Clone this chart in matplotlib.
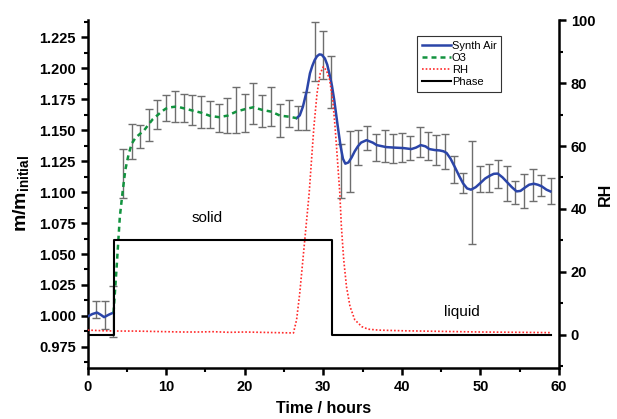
import matplotlib
matplotlib.use("Agg")
import matplotlib.pyplot as plt
from matplotlib.ticker import MultipleLocator, FormatStrFormatter

plt.rcParams['font.family'] = ['Liberation Sans', 'DejaVu Sans']
plt.rcParams['mathtext.fontset'] = 'custom'
plt.rcParams['mathtext.rm'] = 'Liberation Sans'
plt.rcParams['mathtext.bf'] = 'Liberation Sans:bold'

# synth air curve (two parts: before ozone and after ozone)
air1_t = [0.0, 0.6, 1.2, 1.7, 2.1, 2.7, 3.3]
air1_m = [0.9995, 1.0015, 1.0027, 1.0008, 0.9990, 1.0010, 1.0027]
air2_t = [26.6, 27.0, 27.4, 27.9, 28.3, 28.6, 28.9, 29.2, 29.5, 29.8, 30.2, 30.5,
          30.8, 31.1, 31.4, 31.8, 32.2, 32.5, 32.8, 33.2, 33.6, 34.0, 34.4, 34.8,
          35.5, 36.3, 36.8, 38.0, 39.0, 40.2, 41.2, 41.8, 42.4, 43.0, 43.5, 44.2,
          44.8, 45.3, 45.7, 46.2, 46.7, 47.3, 47.8, 48.3, 48.8, 49.4, 50.0, 50.6,
          51.2, 51.7, 52.2, 52.8, 53.4, 54.0, 54.6, 55.1, 55.6, 56.2, 56.8, 57.3,
          57.8, 58.4, 58.9]
air2_m = [1.1598, 1.162, 1.169, 1.182, 1.196, 1.202, 1.2067, 1.2098, 1.2113,
          1.2110, 1.208, 1.203, 1.195, 1.186, 1.174, 1.155, 1.137, 1.127, 1.123,
          1.124, 1.128, 1.133, 1.137, 1.140, 1.142, 1.140, 1.138, 1.1364, 1.136,
          1.1356, 1.1348, 1.136, 1.138, 1.137, 1.1348, 1.1340, 1.1337, 1.1330,
          1.1316, 1.127, 1.1208, 1.113, 1.107, 1.103, 1.102, 1.104, 1.1074, 1.111,
          1.1133, 1.1148, 1.115, 1.112, 1.108, 1.104, 1.1006, 1.101, 1.1034, 1.106,
          1.1068, 1.106, 1.1047, 1.102, 1.1006]

# O3 curve
o3_t = [3.3, 3.7, 4.1, 4.45, 4.8, 5.2, 5.6, 6.1, 6.65, 7.2, 7.8, 8.3, 8.86, 9.4,
        9.96, 10.5, 11.1, 11.6, 12.2, 13.3, 14.4, 15.6, 16.7, 17.8, 18.9, 20.0,
        21.1, 22.2, 23.4, 24.5, 25.6, 26.6]
o3_m = [1.0027, 1.040, 1.080, 1.100, 1.118, 1.130, 1.139, 1.144, 1.147, 1.150,
        1.155, 1.159, 1.162, 1.165, 1.1675, 1.1685, 1.169, 1.1688, 1.1678, 1.166,
        1.1643, 1.1616, 1.1606, 1.1618, 1.165, 1.167, 1.1686, 1.1665, 1.165,
        1.1618, 1.161, 1.1598]

# measurement points with error bars
bar_t = [1.02, 2.20, 3.26, 4.45, 5.60, 6.65, 7.80, 8.86, 9.96, 11.11, 12.21, 13.28,
         14.38, 15.57, 16.67, 17.76, 18.87, 20.01, 21.07, 22.21, 23.36, 24.47,
         25.57, 26.72, 27.77, 28.92, 29.97, 31.04, 32.22, 33.37, 34.43, 35.57,
         36.68, 37.82, 38.88, 40.03, 41.09, 42.28, 43.33, 44.40, 45.55, 46.64,
         47.79, 48.93, 50.00, 51.09, 52.24, 53.38, 54.45, 55.55, 56.69, 57.76, 58.94]
bar_m = [1.005, 1.0007, 1.0034, 1.115, 1.141, 1.145, 1.1545, 1.163, 1.1678, 1.1694,
         1.168, 1.1664, 1.165, 1.163, 1.160, 1.162, 1.1666, 1.1637, 1.1715, 1.1658,
         1.1694, 1.158, 1.1635, 1.160, 1.1657, 1.2138, 1.2108, 1.189, 1.117, 1.1244,
         1.136, 1.144, 1.136, 1.137, 1.135, 1.136, 1.136, 1.1406, 1.1373, 1.134,
         1.133, 1.1184, 1.1074, 1.0997, 1.1103, 1.1114, 1.1148, 1.107, 1.0996, 1.101,
         1.1057, 1.1056, 1.101]
bar_e = [0.007, 0.0114, 0.0207, 0.020, 0.014, 0.0094, 0.013, 0.0117, 0.0107, 0.0124,
         0.011, 0.012, 0.013, 0.011, 0.0114, 0.0143, 0.0185, 0.0155, 0.0165, 0.0128,
         0.0158, 0.0134, 0.011, 0.010, 0.0155, 0.0238, 0.0195, 0.021, 0.022, 0.0246,
         0.014, 0.0097, 0.011, 0.013, 0.0118, 0.012, 0.0097, 0.012, 0.011, 0.012,
         0.014, 0.011, 0.008, 0.042, 0.0105, 0.011, 0.0114, 0.014, 0.009, 0.014,
         0.013, 0.0085, 0.0104]

# relative humidity
rh_t = [0, 2, 4, 6, 8, 10, 12, 14, 16, 18, 20, 22, 24, 26.2, 26.6, 27.0, 27.4, 27.8,
        28.2, 28.5, 28.8, 29.2, 29.6, 30.0, 30.4, 30.8, 31.2, 31.5, 31.8, 32.1, 32.3,
        32.6, 32.95, 33.4, 34.0, 34.9, 35.7, 37, 40, 45, 50, 55, 58.9]
rh = [1.5, 1.3, 1.2, 1.2, 1.1, 1.0, 0.9, 0.9, 1.0, 0.8, 0.9, 0.8, 0.7, 0.6, 4.8, 13.2,
      23.8, 34.4, 45, 55.6, 66, 76.7, 83, 85.2, 84, 81, 74.6, 66, 55.6, 45, 34.4,
      23.8, 15.3, 9, 4.8, 2.6, 1.8, 1.5, 1.3, 1.1, 0.9, 0.8, 0.7]

# phase indicator
phase_t = [0, 3.3, 3.3, 31.1, 31.1, 59]
phase = [0, 0, 30, 30, 0, 0]

fig = plt.figure(figsize=(6.17, 4.19), dpi=100)
ax = fig.add_axes([0.142, 0.122, 0.764, 0.830])
ax2 = ax.twinx()

ax.errorbar(bar_t, bar_m, yerr=bar_e, fmt='none', ecolor='#6e6e6e',
            elinewidth=1.0, capsize=3, capthick=1.0, zorder=2)
l_air, = ax.plot(air1_t, air1_m, color='#2b45a8', lw=1.8, label='Synth Air', zorder=3)
ax.plot(air2_t, air2_m, color='#2b45a8', lw=1.8, zorder=3)
l_o3, = ax.plot(o3_t, o3_m, color='#12933f', lw=1.8, ls=(0, (2.0, 1.6)), label='O3', zorder=3)

l_rh, = ax2.plot(rh_t, rh, color='#ff2a2a', lw=1.2, ls=(0, (1, 1.2)), label='RH')
l_ph, = ax2.plot(phase_t, phase, color='black', lw=1.5, label='Phase')

ax.set_xlim(0, 60)
ax.set_ylim(0.958, 1.239)
ax2.set_ylim(-10.5, 100)

ax.xaxis.set_major_locator(MultipleLocator(10))
ax.xaxis.set_minor_locator(MultipleLocator(5))
ax.yaxis.set_major_locator(MultipleLocator(0.025))
ax.yaxis.set_minor_locator(MultipleLocator(0.0125))
ax2.yaxis.set_major_locator(MultipleLocator(20))
ax2.yaxis.set_minor_locator(MultipleLocator(10))
ax.yaxis.set_major_formatter(FormatStrFormatter('%.3f'))

for a in (ax, ax2):
    for s in a.spines.values():
        s.set_linewidth(1.8)
    a.spines['top'].set_visible(False)
    a.tick_params(which='major', length=5, width=1.8, labelsize=10.5, direction='out')
    a.tick_params(which='minor', length=3, width=1.5, direction='out')
    for lab in a.get_xticklabels() + a.get_yticklabels():
        lab.set_fontweight('bold')
ax.spines['right'].set_visible(False)
ax2.spines['left'].set_visible(False)
ax2.spines['bottom'].set_visible(False)

ax.set_xlabel('Time / hours', fontsize=11.5, fontweight='bold', labelpad=5)
ax.set_ylabel(r'$\mathbf{m/m_{initial}}$', fontsize=14, labelpad=6)
ax2.set_ylabel('RH', fontsize=11.5, fontweight='bold', labelpad=2)

ax.text(15.2, 1.0795, 'solid', fontsize=11, ha='center', va='center')
ax.text(47.6, 1.0028, 'liquid', fontsize=11, ha='center', va='center')

leg = ax2.legend(handles=[l_air, l_o3, l_rh, l_ph], loc='upper left',
                 bbox_to_anchor=(0.688, 0.97), fontsize=8, handlelength=2.6,
                 handletextpad=0.1, borderpad=0.4, labelspacing=0.2,
                 fancybox=False, framealpha=1)
leg.get_frame().set_edgecolor('#333333')
leg.get_frame().set_linewidth(0.8)

fig.savefig('out.png', dpi=100)
